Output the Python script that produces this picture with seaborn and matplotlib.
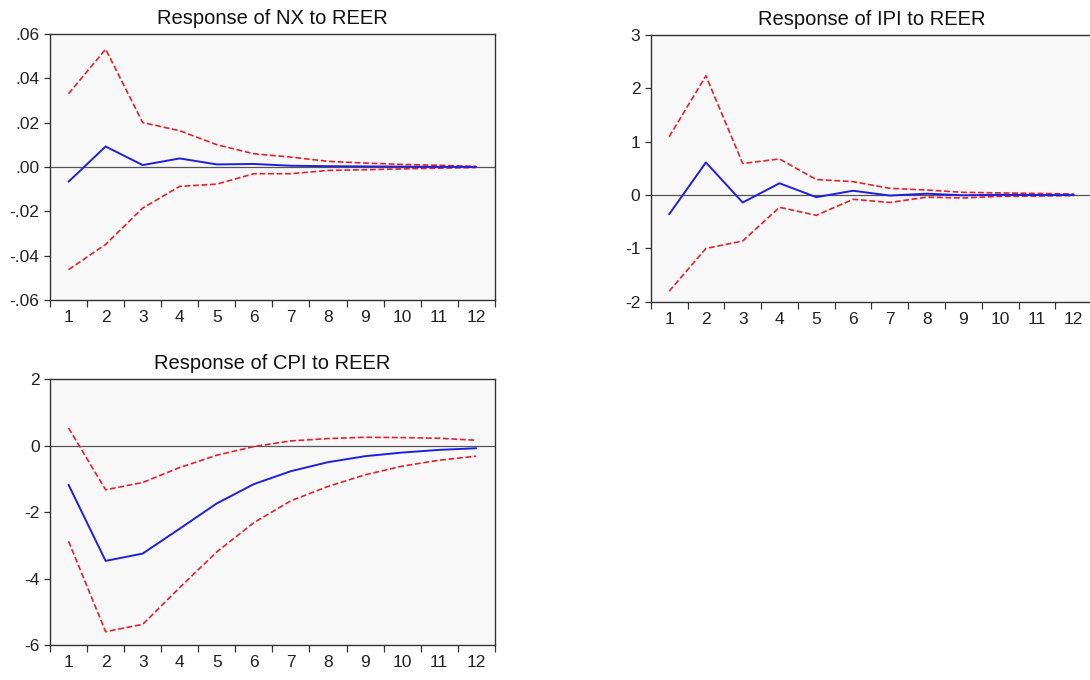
import pandas as pd
import matplotlib
matplotlib.use('Agg')
import matplotlib.pyplot as plt
import seaborn as sns

periods = list(range(1, 13))

nx_resp = [-0.0066, 0.0093, 0.0009, 0.0039, 0.0012, 0.0014, 0.0006, 0.0004, 0.0003, 0.0002, 0.0001, 0.0001]
nx_upper = [0.0331, 0.0532, 0.0201, 0.0164, 0.0101, 0.0060, 0.0045, 0.0026, 0.0018, 0.0012, 0.0008, 0.0003]
nx_lower = [-0.0463, -0.0349, -0.0185, -0.0087, -0.0077, -0.0030, -0.0030, -0.0015, -0.0012, -0.0008, -0.0005, -0.0002]

ipi_resp = [-0.36, 0.61, -0.14, 0.22, -0.04, 0.08, -0.01, 0.025, -0.005, 0.005, 0.0, 0.0]
ipi_upper = [1.09, 2.23, 0.59, 0.675, 0.29, 0.25, 0.125, 0.094, 0.05, 0.04, 0.03, 0.02]
ipi_lower = [-1.80, -1.00, -0.86, -0.23, -0.38, -0.08, -0.14, -0.04, -0.055, -0.025, -0.02, -0.01]

cpi_resp = [-1.18, -3.47, -3.25, -2.50, -1.74, -1.16, -0.77, -0.50, -0.32, -0.21, -0.13, -0.08]
cpi_upper = [0.53, -1.33, -1.11, -0.66, -0.29, -0.03, 0.14, 0.21, 0.25, 0.24, 0.22, 0.16]
cpi_lower = [-2.88, -5.60, -5.38, -4.27, -3.20, -2.32, -1.66, -1.23, -0.88, -0.62, -0.44, -0.32]

sns.set_style("ticks")
plt.rcParams['font.family'] = ['Liberation Sans', 'DejaVu Sans']
plt.rcParams['text.color'] = '#111111'
plt.rcParams['xtick.labelcolor'] = '#222222'
plt.rcParams['ytick.labelcolor'] = '#222222'

fig = plt.figure(figsize=(10.9, 6.8), dpi=100)

panels = [
    ("Response of NX to REER", nx_resp, nx_upper, nx_lower,
     [0.0459, 0.5588, 0.408, 0.391], (-0.06, 0.06),
     [-0.06, -0.04, -0.02, 0.0, 0.02, 0.04, 0.06],
     ['-.06', '-.04', '-.02', '.00', '.02', '.04', '.06']),
    ("Response of IPI to REER", ipi_resp, ipi_upper, ipi_lower,
     [0.597, 0.556, 0.405, 0.393], (-2, 3),
     [-2, -1, 0, 1, 2, 3], ['-2', '-1', '0', '1', '2', '3']),
    ("Response of CPI to REER", cpi_resp, cpi_upper, cpi_lower,
     [0.0459, 0.0515, 0.408, 0.391], (-6, 2),
     [-6, -4, -2, 0, 2], ['-6', '-4', '-2', '0', '2']),
]

for title, resp, upper, lower, pos, ylim, yticks, ylabels in panels:
    ax = fig.add_axes(pos)
    ax.set_facecolor('#f8f8f8')
    df = pd.DataFrame({'period': periods, 'resp': resp, 'upper': upper, 'lower': lower})
    ax.axhline(0, color='#555555', lw=0.9, zorder=1)
    sns.lineplot(data=df, x='period', y='upper', ax=ax, color='#e8202a', lw=1.2, linestyle=(0, (3.5, 1.6)))
    sns.lineplot(data=df, x='period', y='lower', ax=ax, color='#e8202a', lw=1.2, linestyle=(0, (3.5, 1.6)))
    sns.lineplot(data=df, x='period', y='resp', ax=ax, color='#1f1fe0', lw=1.4)
    ax.set_xlim(0.5, 12.5)
    ax.set_ylim(*ylim)
    ax.set_xticks([p + 0.5 for p in [0] + periods])
    ax.set_xticklabels([])
    ax.set_xticks(periods, minor=True)
    ax.set_xticklabels([str(p) for p in periods], minor=True)
    ax.tick_params(axis='x', which='major', length=5, width=0.9, direction='out', color='#333333')
    ax.tick_params(axis='x', which='minor', length=0, labelsize=12.5, pad=7)
    ax.set_yticks(yticks)
    ax.set_yticklabels(ylabels)
    ax.tick_params(axis='y', length=4, width=0.9, labelsize=12.5, color='#333333')
    ax.set_xlabel('')
    ax.set_ylabel('')
    ax.set_title(title, fontsize=14.5, pad=7)
    for s in ax.spines.values():
        s.set_visible(True)
        s.set_color('#333333')
        s.set_linewidth(1.0)

fig.savefig('out.png', dpi=100)
